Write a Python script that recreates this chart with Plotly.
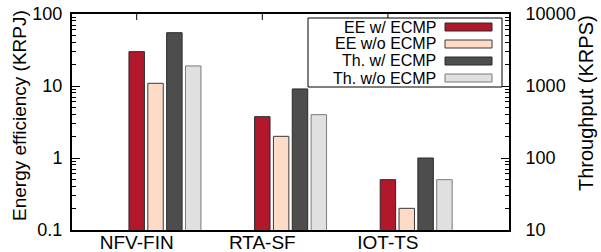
import plotly.graph_objects as go

# ---- data ----
categories = ["NFV-FIN", "RTA-SF", "IOT-TS"]
ee_with_ecmp = [30, 3.75, 0.5]        # KRPJ
ee_without_ecmp = [10.9, 2.0, 0.2]    # KRPJ
th_with_ecmp = [5500, 910, 100]       # KRPS
th_without_ecmp = [1900, 400, 50]     # KRPS
series_names = ["EE w/ ECMP", "EE w/o ECMP", "Th. w/ ECMP", "Th. w/o ECMP"]
left_ticks = [0.1, 1, 10, 100]
right_ticks = [10, 100, 1000, 10000]

# ---- styles ----
colors = ["#B2182B", "#FDDBC7", "#4D4D4D", "#E0E0E0"]
outlines = ["#2a2a2a", "#3a3a3a", "#2a2a2a", "#7a7a7a"]
FONT = "Liberation Sans, Arial, Helvetica, sans-serif"
W, H = 601, 252
ML, MR, MT, MB = 72, 92, 14, 22
PW, PH = W - ML - MR, H - MT - MB

def px_x(x):
    return (x - ML) / PW

def px_y(y):
    return 1 - (y - MT) / PH

def minor_vals(ticks):
    out = []
    for t in ticks[:-1]:
        out += [t * m for m in range(2, 10)]
    return out

bar_w = 0.123
step = 0.15

series = [
    (ee_with_ecmp, "y"),
    (ee_without_ecmp, "y"),
    (th_with_ecmp, "y2"),
    (th_without_ecmp, "y2"),
]

fig = go.Figure()
for i, (vals, ax) in enumerate(series):
    fig.add_trace(go.Bar(
        x=categories, y=vals, name=series_names[i], yaxis=ax,
        width=bar_w, offset=-bar_w / 2 + i * step,
        marker=dict(color=colors[i], line=dict(color=outlines[i], width=1)),
        showlegend=False, hoverinfo="skip",
    ))

shapes = []
annotations = []

# top mirrored x ticks
for k in range(len(categories)):
    shapes.append(dict(type="line", xref="x", yref="paper", x0=k, x1=k,
                       y0=1, y1=1 - 6 / PH, line=dict(color="black", width=1)))

# manual legend (text right, swatch on the right)
shapes.append(dict(type="rect", xref="paper", yref="paper",
                   x0=px_x(308), x1=px_x(502), y0=px_y(87), y1=px_y(18),
                   line=dict(color="black", width=1), fillcolor="white", layer="above"))
for i, name in enumerate(series_names):
    yc = 27 + i * 17
    annotations.append(dict(xref="paper", yref="paper", x=px_x(438), y=px_y(yc),
                            text=name, showarrow=False, xanchor="right", yanchor="middle",
                            font=dict(family=FONT, size=16, color="black")))
    shapes.append(dict(type="rect", xref="paper", yref="paper",
                       x0=px_x(445), x1=px_x(492), y0=px_y(yc + 4), y1=px_y(yc - 4),
                       fillcolor=colors[i], line=dict(color=outlines[i], width=1), layer="above"))

# axis titles
annotations.append(dict(xref="paper", yref="paper", x=px_x(19), y=px_y(116),
                        text="Energy efficiency (KRPJ)", textangle=-90, showarrow=False,
                        xanchor="center", yanchor="middle",
                        font=dict(family=FONT, size=19, color="black")))
annotations.append(dict(xref="paper", yref="paper", x=px_x(586), y=px_y(103),
                        text="Throughput (KRPS)", textangle=-90, showarrow=False,
                        xanchor="center", yanchor="middle",
                        font=dict(family=FONT, size=20, color="black")))

minor_style = dict(ticks="inside", ticklen=4, tickwidth=1, tickcolor="black", showgrid=False)

fig.update_layout(
    width=W, height=H,
    margin=dict(l=ML, r=MR, t=MT, b=MB, pad=0, autoexpand=False),
    paper_bgcolor="white", plot_bgcolor="white",
    barmode="overlay",
    font=dict(family=FONT, size=18, color="black"),
    shapes=shapes, annotations=annotations,
    xaxis=dict(
        type="category", range=[-0.515, 2.964], automargin=False,
        showline=True, linecolor="black", linewidth=2, mirror=True,
        ticks="", showgrid=False, zeroline=False, ticklabelstandoff=-6,
        tickfont=dict(family=FONT, size=19, color="black"),
    ),
    yaxis=dict(
        type="log", range=[-1, 2], automargin=False,
        tickmode="array", tickvals=left_ticks, ticktext=[f"{v:g}" for v in left_ticks],
        showline=True, linecolor="black", linewidth=2, mirror=False,
        ticks="inside", ticklen=8, tickwidth=1, tickcolor="black",
        minor=dict(tickmode="array", tickvals=minor_vals(left_ticks), **minor_style),
        showgrid=False, zeroline=False, ticklabelstandoff=4,
        tickfont=dict(family=FONT, size=18, color="black"),
    ),
    yaxis2=dict(
        type="log", range=[1, 4], overlaying="y", side="right", automargin=False,
        tickmode="array", tickvals=right_ticks, ticktext=[str(v) for v in right_ticks],
        showline=True, linecolor="black", linewidth=2,
        ticks="inside", ticklen=8, tickwidth=1, tickcolor="black",
        minor=dict(tickmode="array", tickvals=minor_vals(right_ticks), **minor_style),
        showgrid=False, zeroline=False, ticklabelstandoff=11,
        tickfont=dict(family=FONT, size=18, color="black"),
    ),
)

fig.write_html(
    "out.html",
    config={"displayModeBar": False},
    post_script="document.body.style.margin='0';document.body.style.padding='0';",
)
